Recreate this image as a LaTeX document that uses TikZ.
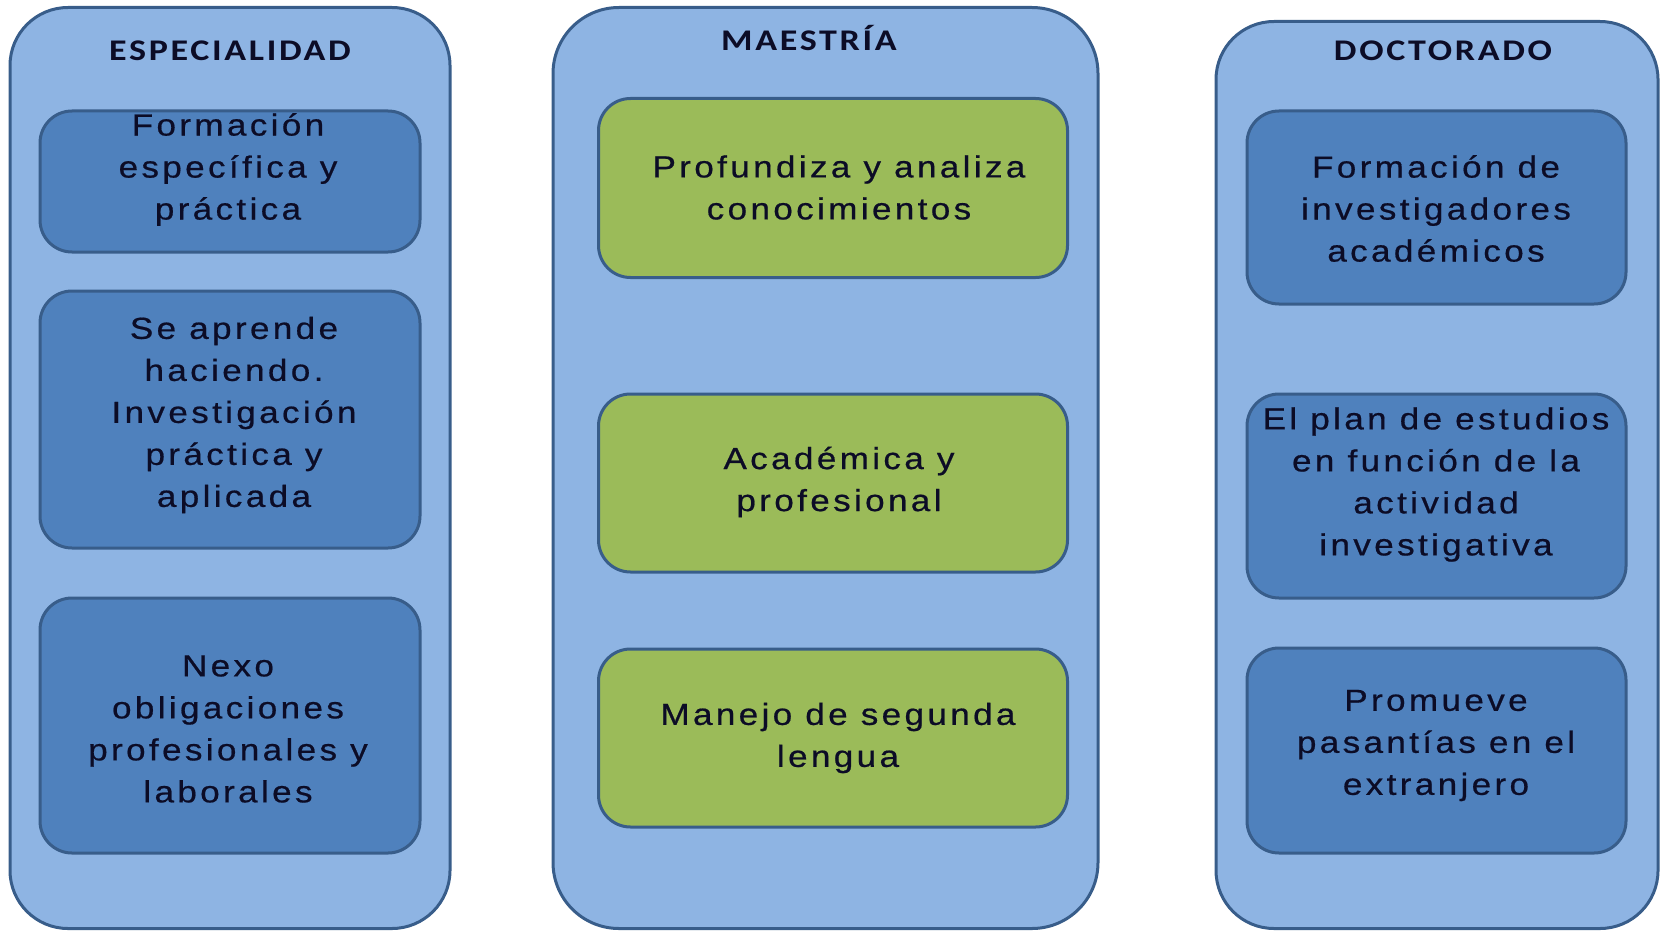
\documentclass[tikz,border=0pt]{standalone}
\usepackage{fontspec}
\newfontfamily\bodyfont[LetterSpace=11,FakeStretch=1.15,FakeBold=0.6]{Liberation Sans}
\newfontfamily\titlefont[LetterSpace=9,FakeStretch=1.2]{Carlito}
\definecolor{outerfill}{HTML}{8EB4E3}
\definecolor{bluefill}{HTML}{4F81BD}
\definecolor{greenfill}{HTML}{9BBB59}
\definecolor{edgecol}{HTML}{385D8A}
\definecolor{txtcol}{HTML}{0C0C26}
\tikzset{
  outerbox/.style={draw=edgecol, fill=outerfill, line width=3pt, rounded corners=58pt, inner sep=0pt},
  bluebox/.style={draw=edgecol, fill=bluefill, line width=3pt, rounded corners=32pt, inner sep=0pt},
  greenbox/.style={draw=edgecol, fill=greenfill, line width=3pt, rounded corners=32pt, inner sep=0pt},
  txt/.style={text=txtcol, align=center, inner sep=0pt, font=\bodyfont\fontsize{30.5}{42}\selectfont},
  ttl/.style={text=txtcol, inner sep=0pt, font=\titlefont\bfseries\fontsize{30}{34}\selectfont}
}
\begin{document}
\begin{tikzpicture}[x=1pt,y=-1pt]
\useasboundingbox (0,0) rectangle (1661,931);
% outer columns
\node[outerbox, minimum width=440pt, minimum height=921pt] (L) at (230,468) {};
\node[outerbox, rounded corners=66pt, minimum width=545pt, minimum height=921pt] (M) at (825.5,468) {};
\node[outerbox, minimum width=442pt, minimum height=907pt] (R) at (1437,475) {};
% titles
\node[ttl] (Lt) at (230,51) {ESPECIALIDAD};
\node[ttl] (Mt) at (809,38) {MAESTRÍA};
\node[ttl] (Rt) at (1443,51) {DOCTORADO};
% left inner
\node[bluebox, minimum width=380pt, minimum height=141pt] (L1) at (230,181.5) {};
\node[bluebox, minimum width=380pt, minimum height=257pt] (L2) at (230,419.5) {};
\node[bluebox, minimum width=380pt, minimum height=255pt] (L3) at (230,725.5) {};
% middle inner
\node[greenbox, minimum width=469pt, minimum height=179pt] (M1) at (833,188) {};
\node[greenbox, minimum width=469pt, minimum height=178pt] (M2) at (833,483) {};
\node[greenbox, minimum width=469pt, minimum height=178pt] (M3) at (833,738) {};
% right inner
\node[bluebox, minimum width=379pt, minimum height=193pt] (R1) at (1436.5,207.5) {};
\node[bluebox, minimum width=379pt, minimum height=204pt] (R2) at (1436.5,496) {};
\node[bluebox, minimum width=379pt, minimum height=205pt] (R3) at (1436.5,750.5) {};
% texts
\node[txt] (L1x) at (228,169.5) {Formación\\específica y\\práctica};
\node[txt] (L2x) at (234,415) {Se aprende\\haciendo.\\Investigación\\práctica y\\aplicada};
\node[txt] (L3x) at (228,729) {Nexo\\obligaciones\\profesionales y\\laborales};
\node[txt] (M1x) at (839,187.5) {Profundiza y analiza\\conocimientos};
\node[txt] (M2x) at (839,482) {Académica y\\profesional};
\node[txt] (M3x) at (838,738) {Manejo de segunda\\lengua};
\node[txt] (R1x) at (1436,208.5) {Formación de\\investigadores\\académicos};
\node[txt] (R2x) at (1436,484.5) {El plan de estudios\\en función de la\\actividad\\investigativa};
\node[txt] (R3x) at (1436,745.5) {Promueve\\pasantías en el\\extranjero};
\end{tikzpicture}
\end{document}
